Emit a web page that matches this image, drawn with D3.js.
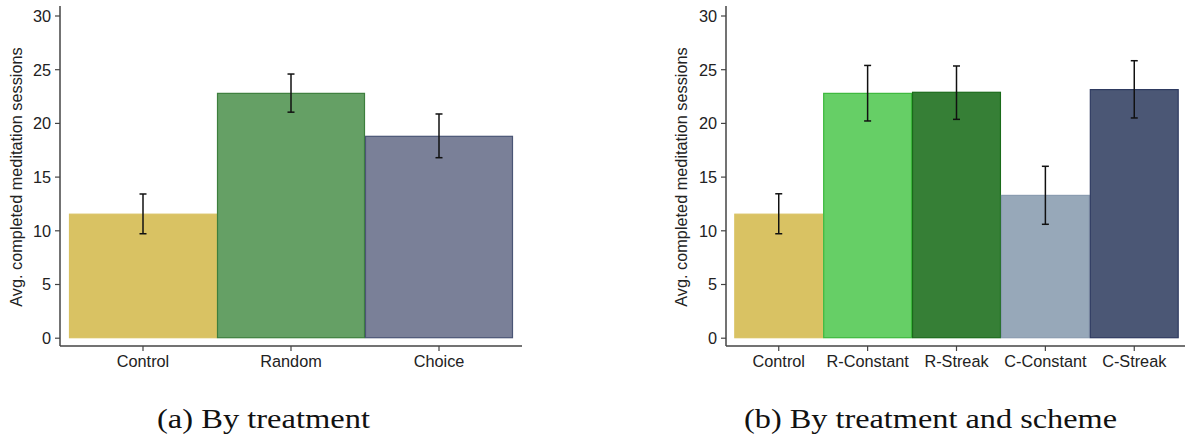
<!DOCTYPE html>
<html><head><meta charset="utf-8">
<script src="https://cdn.jsdelivr.net/npm/d3@7"></script>
<style>
body{margin:0;background:#fff;}
svg{display:block;}
.tick text{font-family:"Liberation Sans",Arial,sans-serif;font-size:16.3px;fill:#222;}
</style></head>
<body><svg id="c" width="1186" height="436"></svg>
<script>
// Panel (a)
const catsA = ["Control","Random","Choice"];
const meansA = [11.5, 22.75, 18.75];
const lowA = [9.68, 21.0, 16.76];
const highA = [13.38, 24.55, 20.83];
const fillsA = ["#d9c263","#65a065","#7a8098"];
const strokesA = ["#d9c263","#3d7f3d","#4a5575"];
// Panel (b)
const catsB = ["Control","R-Constant","R-Streak","C-Constant","C-Streak"];
const meansB = [11.5, 22.75, 22.85, 13.25, 23.1];
const lowB = [9.68, 20.18, 20.33, 10.56, 20.46];
const highB = [13.4, 25.35, 25.3, 15.96, 25.79];
const fillsB = ["#d9c263","#66cf66","#367f36","#97a8b9","#4b5775"];
const strokesB = ["#d9c263","#3cb83c","#1a6b1a","#8a9cb0","#2e3a60"];
const yTicks = [0,5,10,15,20,25,30];
const yLabel = "Avg. completed meditation sessions";
const captions = ["(a) By treatment","(b) By treatment and scheme"];

const svg = d3.select("#c");

function panel(o){
  const g = svg.append("g");
  const y = d3.scaleLinear().domain([0,30]).range([337.7,15.5]);
  const x = d3.scaleBand().domain(o.cats).range(o.bandRange).padding(0);
  // bars
  g.selectAll("rect.bar").data(o.cats).join("rect")
    .attr("x",d=>x(d)+0.5).attr("width",x.bandwidth()-1)
    .attr("y",(d,i)=>y(o.means[i])).attr("height",(d,i)=>y(0)-y(o.means[i]))
    .attr("fill",(d,i)=>o.fills[i]).attr("stroke",(d,i)=>o.strokes[i]).attr("stroke-width",1.2);
  // error bars
  const cx = d=>x(d)+x.bandwidth()/2;
  const eb = g.selectAll("g.eb").data(o.cats).join("g").attr("stroke","#111").attr("stroke-width",1.5);
  eb.append("line").attr("x1",cx).attr("x2",cx).attr("y1",(d,i)=>y(o.low[i])).attr("y2",(d,i)=>y(o.high[i]));
  eb.append("line").attr("x1",d=>cx(d)-3.5).attr("x2",d=>cx(d)+3.5).attr("y1",(d,i)=>y(o.low[i])).attr("y2",(d,i)=>y(o.low[i]));
  eb.append("line").attr("x1",d=>cx(d)-3.5).attr("x2",d=>cx(d)+3.5).attr("y1",(d,i)=>y(o.high[i])).attr("y2",(d,i)=>y(o.high[i]));
  // y axis
  const ya = g.append("g").attr("transform",`translate(${o.axisX},0)`)
    .call(d3.axisLeft(y).tickValues(yTicks).tickSize(5).tickPadding(4));
  ya.select(".domain").remove();
  ya.selectAll(".tick line").attr("stroke","#444").attr("stroke-width",1.2);
  ya.selectAll(".tick text").attr("dy","0.36em");
  g.append("line").attr("x1",o.axisX).attr("x2",o.axisX).attr("y1",6).attr("y2",346)
    .attr("stroke","#444").attr("stroke-width",1.5);
  // x axis
  const xa = g.append("g").attr("transform",`translate(0,346)`)
    .call(d3.axisBottom(x).tickSize(5).tickPadding(4));
  xa.select(".domain").remove();
  xa.selectAll(".tick line").attr("stroke","#444").attr("stroke-width",1.2);
  xa.selectAll(".tick text").attr("dy","0.71em");
  g.append("line").attr("x1",o.axisX).attr("x2",o.axisEnd).attr("y1",346).attr("y2",346)
    .attr("stroke","#444").attr("stroke-width",1.5);
  // y label
  g.append("text").attr("transform",`translate(${o.labelX},177) rotate(-90)`)
    .attr("text-anchor","middle")
    .style("font-family","'Liberation Sans',Arial,sans-serif").style("font-size","16.3px").attr("fill","#222")
    .text(yLabel);
  // caption
  g.append("text").attr("x",o.capX).attr("y",428)
    .attr("textLength",o.capW).attr("lengthAdjust","spacingAndGlyphs")
    .style("font-family","'Liberation Serif','Times New Roman',serif").style("font-size","27px").attr("fill","#111")
    .text(o.caption);
}

panel({cats:catsA,means:meansA,low:lowA,high:highA,fills:fillsA,strokes:strokesA,
  bandRange:[69,513],axisX:60,axisEnd:522,labelX:22,capX:157,capW:213,caption:captions[0]});
panel({cats:catsB,means:meansB,low:lowB,high:highB,fills:fillsB,strokes:strokesB,
  bandRange:[734.3,1178.7],axisX:726,axisEnd:1185,labelX:687,capX:744,capW:373,caption:captions[1]});
</script></body></html>
